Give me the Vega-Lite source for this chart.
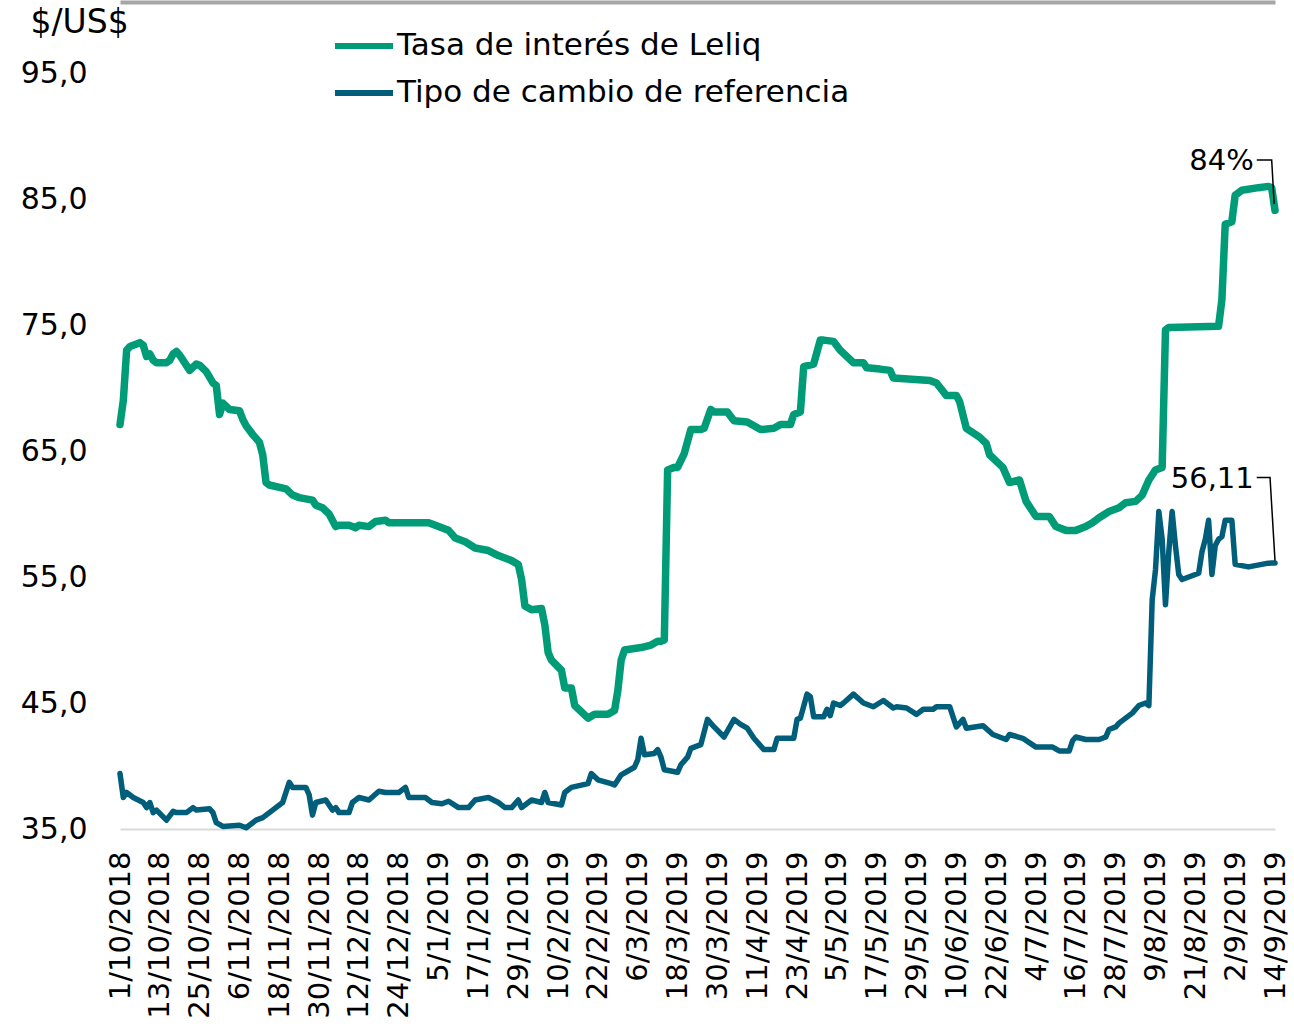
{
  "$schema": "https://vega.github.io/schema/vega-lite/v6.json",
  "width": 1155,
  "height": 756,
  "autosize": {"type": "none"},
  "padding": {"left": 120, "top": 73, "right": 19, "bottom": 202},
  "background": "white",
  "config": {
    "view": {"stroke": null},
    "font": "DejaVu Sans",
    "legend": {
      "orient": "none",
      "legendX": 212,
      "legendY": -59,
      "title": null,
      "labelFontSize": 31,
      "labelColor": "#000000",
      "labelFont": "DejaVu Sans",
      "labelLimit": 0,
      "symbolType": "stroke",
      "symbolSize": 3364,
      "symbolStrokeWidth": 6,
      "labelOffset": 1,
      "rowPadding": 0
    }
  },
  "datasets": {
    "leliq": [
      {"date": "2018-10-01", "valor": 67.1}, {"date": "2018-10-02", "valor": 69.0}, {"date": "2018-10-03", "valor": 73.0},
      {"date": "2018-10-04", "valor": 73.3}, {"date": "2018-10-07", "valor": 73.6}, {"date": "2018-10-08", "valor": 73.4},
      {"date": "2018-10-09", "valor": 72.5}, {"date": "2018-10-10", "valor": 72.7}, {"date": "2018-10-11", "valor": 72.2},
      {"date": "2018-10-12", "valor": 72.0}, {"date": "2018-10-15", "valor": 72.0}, {"date": "2018-10-16", "valor": 72.2},
      {"date": "2018-10-17", "valor": 72.7}, {"date": "2018-10-18", "valor": 72.9}, {"date": "2018-10-19", "valor": 72.6},
      {"date": "2018-10-21", "valor": 71.8}, {"date": "2018-10-22", "valor": 71.4}, {"date": "2018-10-24", "valor": 71.9},
      {"date": "2018-10-25", "valor": 71.8}, {"date": "2018-10-27", "valor": 71.3}, {"date": "2018-10-29", "valor": 70.4},
      {"date": "2018-10-30", "valor": 70.2}, {"date": "2018-10-31", "valor": 67.9}, {"date": "2018-11-01", "valor": 68.8},
      {"date": "2018-11-03", "valor": 68.3}, {"date": "2018-11-06", "valor": 68.2}, {"date": "2018-11-07", "valor": 67.5},
      {"date": "2018-11-08", "valor": 67.0}, {"date": "2018-11-10", "valor": 66.3}, {"date": "2018-11-12", "valor": 65.7},
      {"date": "2018-11-13", "valor": 64.7}, {"date": "2018-11-14", "valor": 62.5}, {"date": "2018-11-15", "valor": 62.3},
      {"date": "2018-11-20", "valor": 62.0}, {"date": "2018-11-22", "valor": 61.5}, {"date": "2018-11-24", "valor": 61.3},
      {"date": "2018-11-28", "valor": 61.1}, {"date": "2018-11-29", "valor": 60.7}, {"date": "2018-12-01", "valor": 60.5},
      {"date": "2018-12-03", "valor": 60.0}, {"date": "2018-12-05", "valor": 59.0}, {"date": "2018-12-06", "valor": 59.1},
      {"date": "2018-12-09", "valor": 59.1}, {"date": "2018-12-11", "valor": 58.9}, {"date": "2018-12-12", "valor": 59.1},
      {"date": "2018-12-15", "valor": 59.0}, {"date": "2018-12-17", "valor": 59.4}, {"date": "2018-12-20", "valor": 59.5},
      {"date": "2018-12-21", "valor": 59.3}, {"date": "2019-01-02", "valor": 59.3}, {"date": "2019-01-05", "valor": 59.0},
      {"date": "2019-01-08", "valor": 58.7}, {"date": "2019-01-10", "valor": 58.1}, {"date": "2019-01-13", "valor": 57.8},
      {"date": "2019-01-16", "valor": 57.3}, {"date": "2019-01-20", "valor": 57.1}, {"date": "2019-01-23", "valor": 56.7},
      {"date": "2019-01-27", "valor": 56.3}, {"date": "2019-01-29", "valor": 56.0}, {"date": "2019-01-30", "valor": 54.8},
      {"date": "2019-01-31", "valor": 52.7}, {"date": "2019-02-02", "valor": 52.4}, {"date": "2019-02-05", "valor": 52.5},
      {"date": "2019-02-06", "valor": 51.2}, {"date": "2019-02-07", "valor": 49.0}, {"date": "2019-02-08", "valor": 48.4},
      {"date": "2019-02-11", "valor": 47.6}, {"date": "2019-02-12", "valor": 46.2}, {"date": "2019-02-14", "valor": 46.2},
      {"date": "2019-02-15", "valor": 44.8}, {"date": "2019-02-17", "valor": 44.3}, {"date": "2019-02-19", "valor": 43.8},
      {"date": "2019-02-21", "valor": 44.1}, {"date": "2019-02-25", "valor": 44.1}, {"date": "2019-02-27", "valor": 44.4},
      {"date": "2019-02-28", "valor": 46.0}, {"date": "2019-03-01", "valor": 48.4}, {"date": "2019-03-02", "valor": 49.2},
      {"date": "2019-03-07", "valor": 49.4}, {"date": "2019-03-10", "valor": 49.6}, {"date": "2019-03-12", "valor": 49.9},
      {"date": "2019-03-13", "valor": 49.9}, {"date": "2019-03-14", "valor": 50.0}, {"date": "2019-03-15", "valor": 63.5},
      {"date": "2019-03-17", "valor": 63.7}, {"date": "2019-03-18", "valor": 63.7}, {"date": "2019-03-20", "valor": 64.8},
      {"date": "2019-03-22", "valor": 66.7}, {"date": "2019-03-25", "valor": 66.7}, {"date": "2019-03-26", "valor": 66.8},
      {"date": "2019-03-28", "valor": 68.3}, {"date": "2019-03-29", "valor": 68.1}, {"date": "2019-04-02", "valor": 68.1},
      {"date": "2019-04-04", "valor": 67.4}, {"date": "2019-04-08", "valor": 67.3}, {"date": "2019-04-12", "valor": 66.7},
      {"date": "2019-04-16", "valor": 66.8}, {"date": "2019-04-18", "valor": 67.1}, {"date": "2019-04-21", "valor": 67.1},
      {"date": "2019-04-22", "valor": 67.9}, {"date": "2019-04-24", "valor": 68.1}, {"date": "2019-04-25", "valor": 71.7},
      {"date": "2019-04-28", "valor": 71.9}, {"date": "2019-04-30", "valor": 73.8}, {"date": "2019-05-01", "valor": 73.8},
      {"date": "2019-05-04", "valor": 73.7}, {"date": "2019-05-06", "valor": 73.0}, {"date": "2019-05-10", "valor": 72.0},
      {"date": "2019-05-13", "valor": 72.0}, {"date": "2019-05-14", "valor": 71.6}, {"date": "2019-05-18", "valor": 71.5},
      {"date": "2019-05-21", "valor": 71.4}, {"date": "2019-05-22", "valor": 70.8}, {"date": "2019-06-02", "valor": 70.6},
      {"date": "2019-06-04", "valor": 70.4}, {"date": "2019-06-07", "valor": 69.4}, {"date": "2019-06-10", "valor": 69.4},
      {"date": "2019-06-11", "valor": 68.9}, {"date": "2019-06-13", "valor": 66.8}, {"date": "2019-06-17", "valor": 66.1},
      {"date": "2019-06-19", "valor": 65.6}, {"date": "2019-06-20", "valor": 64.7}, {"date": "2019-06-24", "valor": 63.7},
      {"date": "2019-06-26", "valor": 62.5}, {"date": "2019-06-29", "valor": 62.7}, {"date": "2019-07-01", "valor": 61.0},
      {"date": "2019-07-04", "valor": 59.8}, {"date": "2019-07-08", "valor": 59.8}, {"date": "2019-07-10", "valor": 59.0},
      {"date": "2019-07-13", "valor": 58.7}, {"date": "2019-07-16", "valor": 58.7}, {"date": "2019-07-19", "valor": 59.0},
      {"date": "2019-07-21", "valor": 59.3}, {"date": "2019-07-23", "valor": 59.7}, {"date": "2019-07-26", "valor": 60.2},
      {"date": "2019-07-29", "valor": 60.5}, {"date": "2019-07-31", "valor": 60.9}, {"date": "2019-08-03", "valor": 61.0},
      {"date": "2019-08-05", "valor": 61.5}, {"date": "2019-08-07", "valor": 62.7}, {"date": "2019-08-09", "valor": 63.5},
      {"date": "2019-08-11", "valor": 63.7}, {"date": "2019-08-12", "valor": 74.6}, {"date": "2019-08-13", "valor": 74.8},
      {"date": "2019-08-28", "valor": 74.9}, {"date": "2019-08-29", "valor": 77.0}, {"date": "2019-08-30", "valor": 83.0},
      {"date": "2019-09-01", "valor": 83.2}, {"date": "2019-09-02", "valor": 85.3}, {"date": "2019-09-04", "valor": 85.7},
      {"date": "2019-09-09", "valor": 85.9}, {"date": "2019-09-12", "valor": 86.0}, {"date": "2019-09-13", "valor": 85.9},
      {"date": "2019-09-14", "valor": 84.1}
    ],
    "tc": [
      {"date": "2018-10-01", "valor": 39.4}, {"date": "2018-10-02", "valor": 37.5}, {"date": "2018-10-03", "valor": 37.9},
      {"date": "2018-10-05", "valor": 37.5}, {"date": "2018-10-08", "valor": 37.1}, {"date": "2018-10-09", "valor": 36.7},
      {"date": "2018-10-10", "valor": 37.1}, {"date": "2018-10-11", "valor": 36.3}, {"date": "2018-10-12", "valor": 36.5},
      {"date": "2018-10-15", "valor": 35.7}, {"date": "2018-10-17", "valor": 36.4}, {"date": "2018-10-18", "valor": 36.3},
      {"date": "2018-10-21", "valor": 36.3}, {"date": "2018-10-23", "valor": 36.7}, {"date": "2018-10-24", "valor": 36.5},
      {"date": "2018-10-28", "valor": 36.6}, {"date": "2018-10-29", "valor": 36.3}, {"date": "2018-10-30", "valor": 35.5},
      {"date": "2018-11-01", "valor": 35.2}, {"date": "2018-11-06", "valor": 35.3}, {"date": "2018-11-08", "valor": 35.1},
      {"date": "2018-11-11", "valor": 35.7}, {"date": "2018-11-13", "valor": 35.9}, {"date": "2018-11-16", "valor": 36.5},
      {"date": "2018-11-19", "valor": 37.1}, {"date": "2018-11-20", "valor": 37.9}, {"date": "2018-11-21", "valor": 38.7},
      {"date": "2018-11-22", "valor": 38.3}, {"date": "2018-11-26", "valor": 38.3}, {"date": "2018-11-27", "valor": 37.7},
      {"date": "2018-11-28", "valor": 36.1}, {"date": "2018-11-29", "valor": 37.1}, {"date": "2018-12-02", "valor": 37.3},
      {"date": "2018-12-04", "valor": 36.5}, {"date": "2018-12-05", "valor": 36.7}, {"date": "2018-12-06", "valor": 36.3},
      {"date": "2018-12-09", "valor": 36.3}, {"date": "2018-12-10", "valor": 37.1}, {"date": "2018-12-12", "valor": 37.5},
      {"date": "2018-12-15", "valor": 37.3}, {"date": "2018-12-18", "valor": 38.0}, {"date": "2018-12-20", "valor": 37.9},
      {"date": "2018-12-24", "valor": 37.9}, {"date": "2018-12-26", "valor": 38.3}, {"date": "2018-12-27", "valor": 37.5},
      {"date": "2019-01-01", "valor": 37.5}, {"date": "2019-01-03", "valor": 37.1}, {"date": "2019-01-06", "valor": 37.0},
      {"date": "2019-01-08", "valor": 37.2}, {"date": "2019-01-11", "valor": 36.7}, {"date": "2019-01-14", "valor": 36.7},
      {"date": "2019-01-16", "valor": 37.3}, {"date": "2019-01-20", "valor": 37.5}, {"date": "2019-01-23", "valor": 37.1},
      {"date": "2019-01-25", "valor": 36.7}, {"date": "2019-01-27", "valor": 36.7}, {"date": "2019-01-29", "valor": 37.3},
      {"date": "2019-01-30", "valor": 36.7}, {"date": "2019-02-02", "valor": 37.3}, {"date": "2019-02-05", "valor": 37.1},
      {"date": "2019-02-06", "valor": 37.9}, {"date": "2019-02-07", "valor": 37.1}, {"date": "2019-02-11", "valor": 36.9},
      {"date": "2019-02-12", "valor": 37.9}, {"date": "2019-02-14", "valor": 38.3}, {"date": "2019-02-19", "valor": 38.6},
      {"date": "2019-02-20", "valor": 39.4}, {"date": "2019-02-22", "valor": 38.9}, {"date": "2019-02-26", "valor": 38.6},
      {"date": "2019-02-27", "valor": 38.5}, {"date": "2019-03-01", "valor": 39.3}, {"date": "2019-03-05", "valor": 39.9},
      {"date": "2019-03-06", "valor": 40.5}, {"date": "2019-03-07", "valor": 42.2}, {"date": "2019-03-08", "valor": 40.9},
      {"date": "2019-03-11", "valor": 41.0}, {"date": "2019-03-12", "valor": 41.3}, {"date": "2019-03-13", "valor": 40.7},
      {"date": "2019-03-14", "valor": 39.7}, {"date": "2019-03-18", "valor": 39.5}, {"date": "2019-03-19", "valor": 40.1},
      {"date": "2019-03-21", "valor": 40.7}, {"date": "2019-03-22", "valor": 41.4}, {"date": "2019-03-25", "valor": 41.7},
      {"date": "2019-03-27", "valor": 43.7}, {"date": "2019-03-29", "valor": 43.1}, {"date": "2019-04-01", "valor": 42.3},
      {"date": "2019-04-04", "valor": 43.7}, {"date": "2019-04-06", "valor": 43.3}, {"date": "2019-04-08", "valor": 43.0},
      {"date": "2019-04-10", "valor": 42.2}, {"date": "2019-04-13", "valor": 41.3}, {"date": "2019-04-16", "valor": 41.3},
      {"date": "2019-04-17", "valor": 42.2}, {"date": "2019-04-22", "valor": 42.2}, {"date": "2019-04-23", "valor": 43.7},
      {"date": "2019-04-24", "valor": 43.8}, {"date": "2019-04-26", "valor": 45.7}, {"date": "2019-04-27", "valor": 45.5},
      {"date": "2019-04-28", "valor": 43.9}, {"date": "2019-05-01", "valor": 43.9}, {"date": "2019-05-02", "valor": 44.5},
      {"date": "2019-05-03", "valor": 44.0}, {"date": "2019-05-04", "valor": 45.0}, {"date": "2019-05-06", "valor": 44.8},
      {"date": "2019-05-07", "valor": 45.0}, {"date": "2019-05-10", "valor": 45.7}, {"date": "2019-05-13", "valor": 45.0},
      {"date": "2019-05-16", "valor": 44.7}, {"date": "2019-05-19", "valor": 45.2}, {"date": "2019-05-22", "valor": 44.6},
      {"date": "2019-05-23", "valor": 44.7}, {"date": "2019-05-26", "valor": 44.6}, {"date": "2019-05-29", "valor": 44.1},
      {"date": "2019-05-31", "valor": 44.5}, {"date": "2019-06-03", "valor": 44.5}, {"date": "2019-06-04", "valor": 44.7},
      {"date": "2019-06-08", "valor": 44.7}, {"date": "2019-06-10", "valor": 43.1}, {"date": "2019-06-12", "valor": 43.7},
      {"date": "2019-06-13", "valor": 43.0}, {"date": "2019-06-18", "valor": 43.2}, {"date": "2019-06-21", "valor": 42.5},
      {"date": "2019-06-25", "valor": 42.1}, {"date": "2019-06-26", "valor": 42.5}, {"date": "2019-06-30", "valor": 42.2},
      {"date": "2019-07-04", "valor": 41.5}, {"date": "2019-07-09", "valor": 41.5}, {"date": "2019-07-11", "valor": 41.2},
      {"date": "2019-07-14", "valor": 41.2}, {"date": "2019-07-15", "valor": 42.0}, {"date": "2019-07-16", "valor": 42.3},
      {"date": "2019-07-19", "valor": 42.1}, {"date": "2019-07-23", "valor": 42.1}, {"date": "2019-07-25", "valor": 42.3},
      {"date": "2019-07-26", "valor": 42.9}, {"date": "2019-07-28", "valor": 43.1}, {"date": "2019-07-29", "valor": 43.4},
      {"date": "2019-07-31", "valor": 43.8}, {"date": "2019-08-02", "valor": 44.2}, {"date": "2019-08-04", "valor": 44.8},
      {"date": "2019-08-06", "valor": 45.0}, {"date": "2019-08-07", "valor": 44.8}, {"date": "2019-08-08", "valor": 53.2},
      {"date": "2019-08-09", "valor": 55.6}, {"date": "2019-08-10", "valor": 60.2}, {"date": "2019-08-11", "valor": 58.0},
      {"date": "2019-08-12", "valor": 52.8}, {"date": "2019-08-13", "valor": 57.0}, {"date": "2019-08-14", "valor": 60.2},
      {"date": "2019-08-15", "valor": 57.5}, {"date": "2019-08-16", "valor": 55.2}, {"date": "2019-08-17", "valor": 54.8},
      {"date": "2019-08-19", "valor": 55.0}, {"date": "2019-08-22", "valor": 55.3}, {"date": "2019-08-23", "valor": 57.0},
      {"date": "2019-08-24", "valor": 58.0}, {"date": "2019-08-25", "valor": 59.5}, {"date": "2019-08-26", "valor": 55.2},
      {"date": "2019-08-27", "valor": 57.5}, {"date": "2019-08-28", "valor": 58.0}, {"date": "2019-08-29", "valor": 58.2},
      {"date": "2019-08-30", "valor": 59.5}, {"date": "2019-09-01", "valor": 59.5}, {"date": "2019-09-02", "valor": 56.0},
      {"date": "2019-09-04", "valor": 55.9}, {"date": "2019-09-06", "valor": 55.8}, {"date": "2019-09-08", "valor": 55.9},
      {"date": "2019-09-10", "valor": 56.0}, {"date": "2019-09-12", "valor": 56.1}, {"date": "2019-09-14", "valor": 56.11}
    ],
    "notas": [
      {"date": "2019-09-07", "valor": 88.0, "texto": "84%"},
      {"date": "2019-09-07", "valor": 62.8, "texto": "56,11"}
    ],
    "guias": [
      {"g": "a", "orden": 1, "date": "2019-09-08T12:00:00Z", "valor": 88.1},
      {"g": "a", "orden": 2, "date": "2019-09-13T00:00:00Z", "valor": 88.1},
      {"g": "a", "orden": 3, "date": "2019-09-13T18:00:00Z", "valor": 84.6},
      {"g": "b", "orden": 1, "date": "2019-09-08T12:00:00Z", "valor": 62.9},
      {"g": "b", "orden": 2, "date": "2019-09-12T12:00:00Z", "valor": 62.9},
      {"g": "b", "orden": 3, "date": "2019-09-14T00:00:00Z", "valor": 56.3}
    ]
  },
  "resolve": {"axis": {"x": "independent"}},
  "layer": [
    {
      "data": {"name": "leliq"},
      "mark": {"type": "line", "strokeWidth": 7.5, "strokeCap": "round", "strokeJoin": "round"},
      "encoding": {
        "x": {
          "field": "date", "type": "temporal",
          "scale": {"type": "utc", "domain": [{"year": 2018, "month": 10, "date": 1, "utc": true}, {"year": 2019, "month": 9, "date": 14, "utc": true}]},
          "axis": {
            "orient": "bottom",
            "title": null,
            "format": "%-d/%-m/%Y",
            "values": [
              {"year": 2018, "month": 10, "date": 1, "utc": true}, {"year": 2018, "month": 10, "date": 13, "utc": true},
              {"year": 2018, "month": 10, "date": 25, "utc": true}, {"year": 2018, "month": 11, "date": 6, "utc": true},
              {"year": 2018, "month": 11, "date": 18, "utc": true}, {"year": 2018, "month": 11, "date": 30, "utc": true},
              {"year": 2018, "month": 12, "date": 12, "utc": true}, {"year": 2018, "month": 12, "date": 24, "utc": true},
              {"year": 2019, "month": 1, "date": 5, "utc": true}, {"year": 2019, "month": 1, "date": 17, "utc": true},
              {"year": 2019, "month": 1, "date": 29, "utc": true}, {"year": 2019, "month": 2, "date": 10, "utc": true},
              {"year": 2019, "month": 2, "date": 22, "utc": true}, {"year": 2019, "month": 3, "date": 6, "utc": true},
              {"year": 2019, "month": 3, "date": 18, "utc": true}, {"year": 2019, "month": 3, "date": 30, "utc": true},
              {"year": 2019, "month": 4, "date": 11, "utc": true}, {"year": 2019, "month": 4, "date": 23, "utc": true},
              {"year": 2019, "month": 5, "date": 5, "utc": true}, {"year": 2019, "month": 5, "date": 17, "utc": true},
              {"year": 2019, "month": 5, "date": 29, "utc": true}, {"year": 2019, "month": 6, "date": 10, "utc": true},
              {"year": 2019, "month": 6, "date": 22, "utc": true}, {"year": 2019, "month": 7, "date": 4, "utc": true},
              {"year": 2019, "month": 7, "date": 16, "utc": true}, {"year": 2019, "month": 7, "date": 28, "utc": true},
              {"year": 2019, "month": 8, "date": 9, "utc": true}, {"year": 2019, "month": 8, "date": 21, "utc": true},
              {"year": 2019, "month": 9, "date": 2, "utc": true}, {"year": 2019, "month": 9, "date": 14, "utc": true}
            ],
            "labelAngle": -90,
            "labelAlign": "right",
            "labelBaseline": "middle",
            "labelFontSize": 29,
            "labelColor": "#000000",
            "labelPadding": 22,
            "labelOverlap": false,
            "labelBound": false,
            "labelFlush": false,
            "ticks": false,
            "grid": false,
            "domain": true,
            "domainColor": "#d9d9d9",
            "domainWidth": 2
          }
        },
        "y": {
          "field": "valor", "type": "quantitative",
          "scale": {"domain": [35, 95], "nice": false, "zero": false},
          "axis": {
            "values": [35, 45, 55, 65, 75, 85, 95],
            "labelExpr": "replace(format(datum.value, '.1f'), '.', ',')",
            "labelFontSize": 30,
            "labelColor": "#000000",
            "labelPadding": 33,
            "ticks": false,
            "grid": false,
            "domain": false,
            "title": "$/US$",
            "titleAngle": 0,
            "titleX": -90,
            "titleY": -51,
            "titleAlign": "left",
            "titleBaseline": "middle",
            "titleFontSize": 33,
            "titleFontWeight": "normal",
            "titleColor": "#000000"
          }
        },
        "color": {
          "datum": "Tasa de interés de Leliq", "type": "nominal",
          "scale": {"domain": ["Tasa de interés de Leliq", "Tipo de cambio de referencia"], "range": ["#009B77", "#005E7A"]}
        }
      }
    },
    {
      "data": {"name": "tc"},
      "mark": {"type": "line", "strokeWidth": 5.5, "strokeCap": "round", "strokeJoin": "round"},
      "encoding": {
        "x": {
          "field": "date", "type": "temporal",
          "axis": {
            "orient": "top", "title": null, "labels": false, "ticks": false, "grid": false,
            "domain": true, "domainColor": "#a6a6a6", "domainWidth": 4, "offset": 71
          }
        },
        "y": {"field": "valor", "type": "quantitative"},
        "color": {"datum": "Tipo de cambio de referencia", "type": "nominal"}
      }
    },
    {
      "data": {"name": "guias"},
      "mark": {"type": "line", "color": "#000000", "strokeWidth": 1.5},
      "encoding": {
        "x": {"field": "date", "type": "temporal", "axis": null},
        "y": {"field": "valor", "type": "quantitative"},
        "detail": {"field": "g"},
        "order": {"field": "orden"}
      }
    },
    {
      "data": {"name": "notas"},
      "mark": {"type": "text", "align": "right", "baseline": "middle", "fontSize": 29, "color": "#000000", "dx": 2},
      "encoding": {
        "x": {"field": "date", "type": "temporal", "axis": null},
        "y": {"field": "valor", "type": "quantitative"},
        "text": {"field": "texto"}
      }
    }
  ]
}
